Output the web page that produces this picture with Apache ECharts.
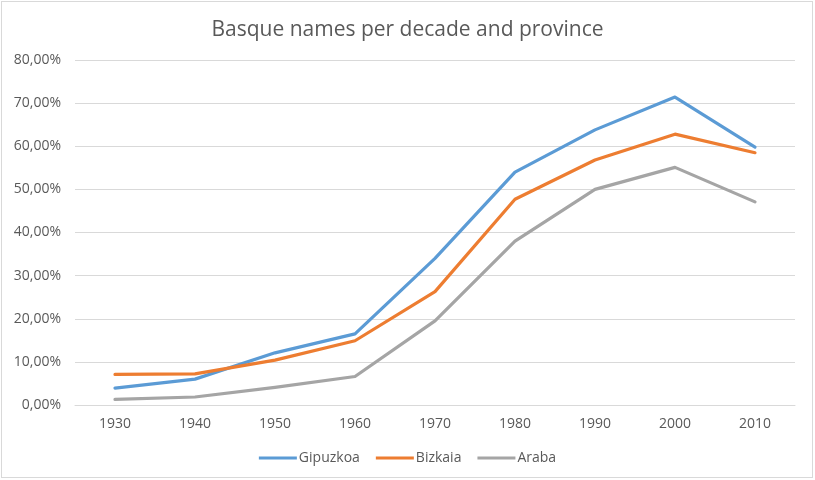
<!DOCTYPE html>
<html>
<head>
<meta charset="utf-8">
<script src="https://cdn.jsdelivr.net/npm/echarts@6/dist/echarts.min.js"></script>
<style>
html,body{margin:0;padding:0;background:#fff;}
#frame{position:absolute;left:1px;top:1px;width:812px;height:477px;border:1px solid #d9d9d9;box-sizing:border-box;}
#chart{position:absolute;left:0;top:0;width:815px;height:480px;}
</style>
</head>
<body>
<div id="frame"></div>
<div id="chart"></div>
<script>
const categories = ['1930','1940','1950','1960','1970','1980','1990','2000','2010'];
const gipuzkoa = [3.9, 6.0, 12.1, 16.5, 34.0, 54.0, 63.8, 71.4, 59.8];
const bizkaia  = [7.1, 7.2, 10.4, 14.9, 26.3, 47.7, 56.8, 62.8, 58.5];
const araba    = [1.3, 1.85, 4.1, 6.6, 19.5, 38.0, 50.0, 55.1, 47.1];
const seriesNames = ['Gipuzkoa','Bizkaia','Araba'];
const colors = ['#5B9BD5','#ED7D31','#A5A5A5'];

const chart = echarts.init(document.getElementById('chart'), null, {renderer:'canvas'});
const font = 'Open Sans';
function mk(name, data, color){
  return {name, type:'line', data, symbol:'none', smooth:false,
    lineStyle:{width:3.2, color, cap:'round', join:'round'}, itemStyle:{color}};
}
chart.setOption({
  backgroundColor:'transparent',
  animation:false,
  title:{text:'Basque names per decade and province', left:'center', top:15,
    textStyle:{fontFamily:font, fontSize:21, fontWeight:'normal', color:'#595959'}},
  legend:{bottom:10, left:'center', itemWidth:38, itemHeight:3, itemGap:16,
    icon:'rect',
    textStyle:{fontFamily:font, fontSize:14, color:'#595959', padding:[0,0,0,-3]},
    data:seriesNames},
  grid:{left:75, right:20, top:60, bottom:75, containLabel:false},
  xAxis:{type:'category', data:categories, boundaryGap:true,
    axisLine:{lineStyle:{color:'#d9d9d9', width:1}}, axisTick:{show:false},
    axisLabel:{fontFamily:font, fontSize:14, color:'#595959', margin:12}},
  yAxis:{type:'value', min:0, max:80, interval:10,
    axisLine:{show:false}, axisTick:{show:false},
    splitLine:{lineStyle:{color:'#d9d9d9', width:1}},
    axisLabel:{fontFamily:font, fontSize:14, color:'#595959', margin:14,
      formatter:v=>v.toFixed(2).replace('.',',')+'%'}},
  series:[mk(seriesNames[0], gipuzkoa, colors[0]), mk(seriesNames[1], bizkaia, colors[1]), mk(seriesNames[2], araba, colors[2])]
});
</script>
</body>
</html>
